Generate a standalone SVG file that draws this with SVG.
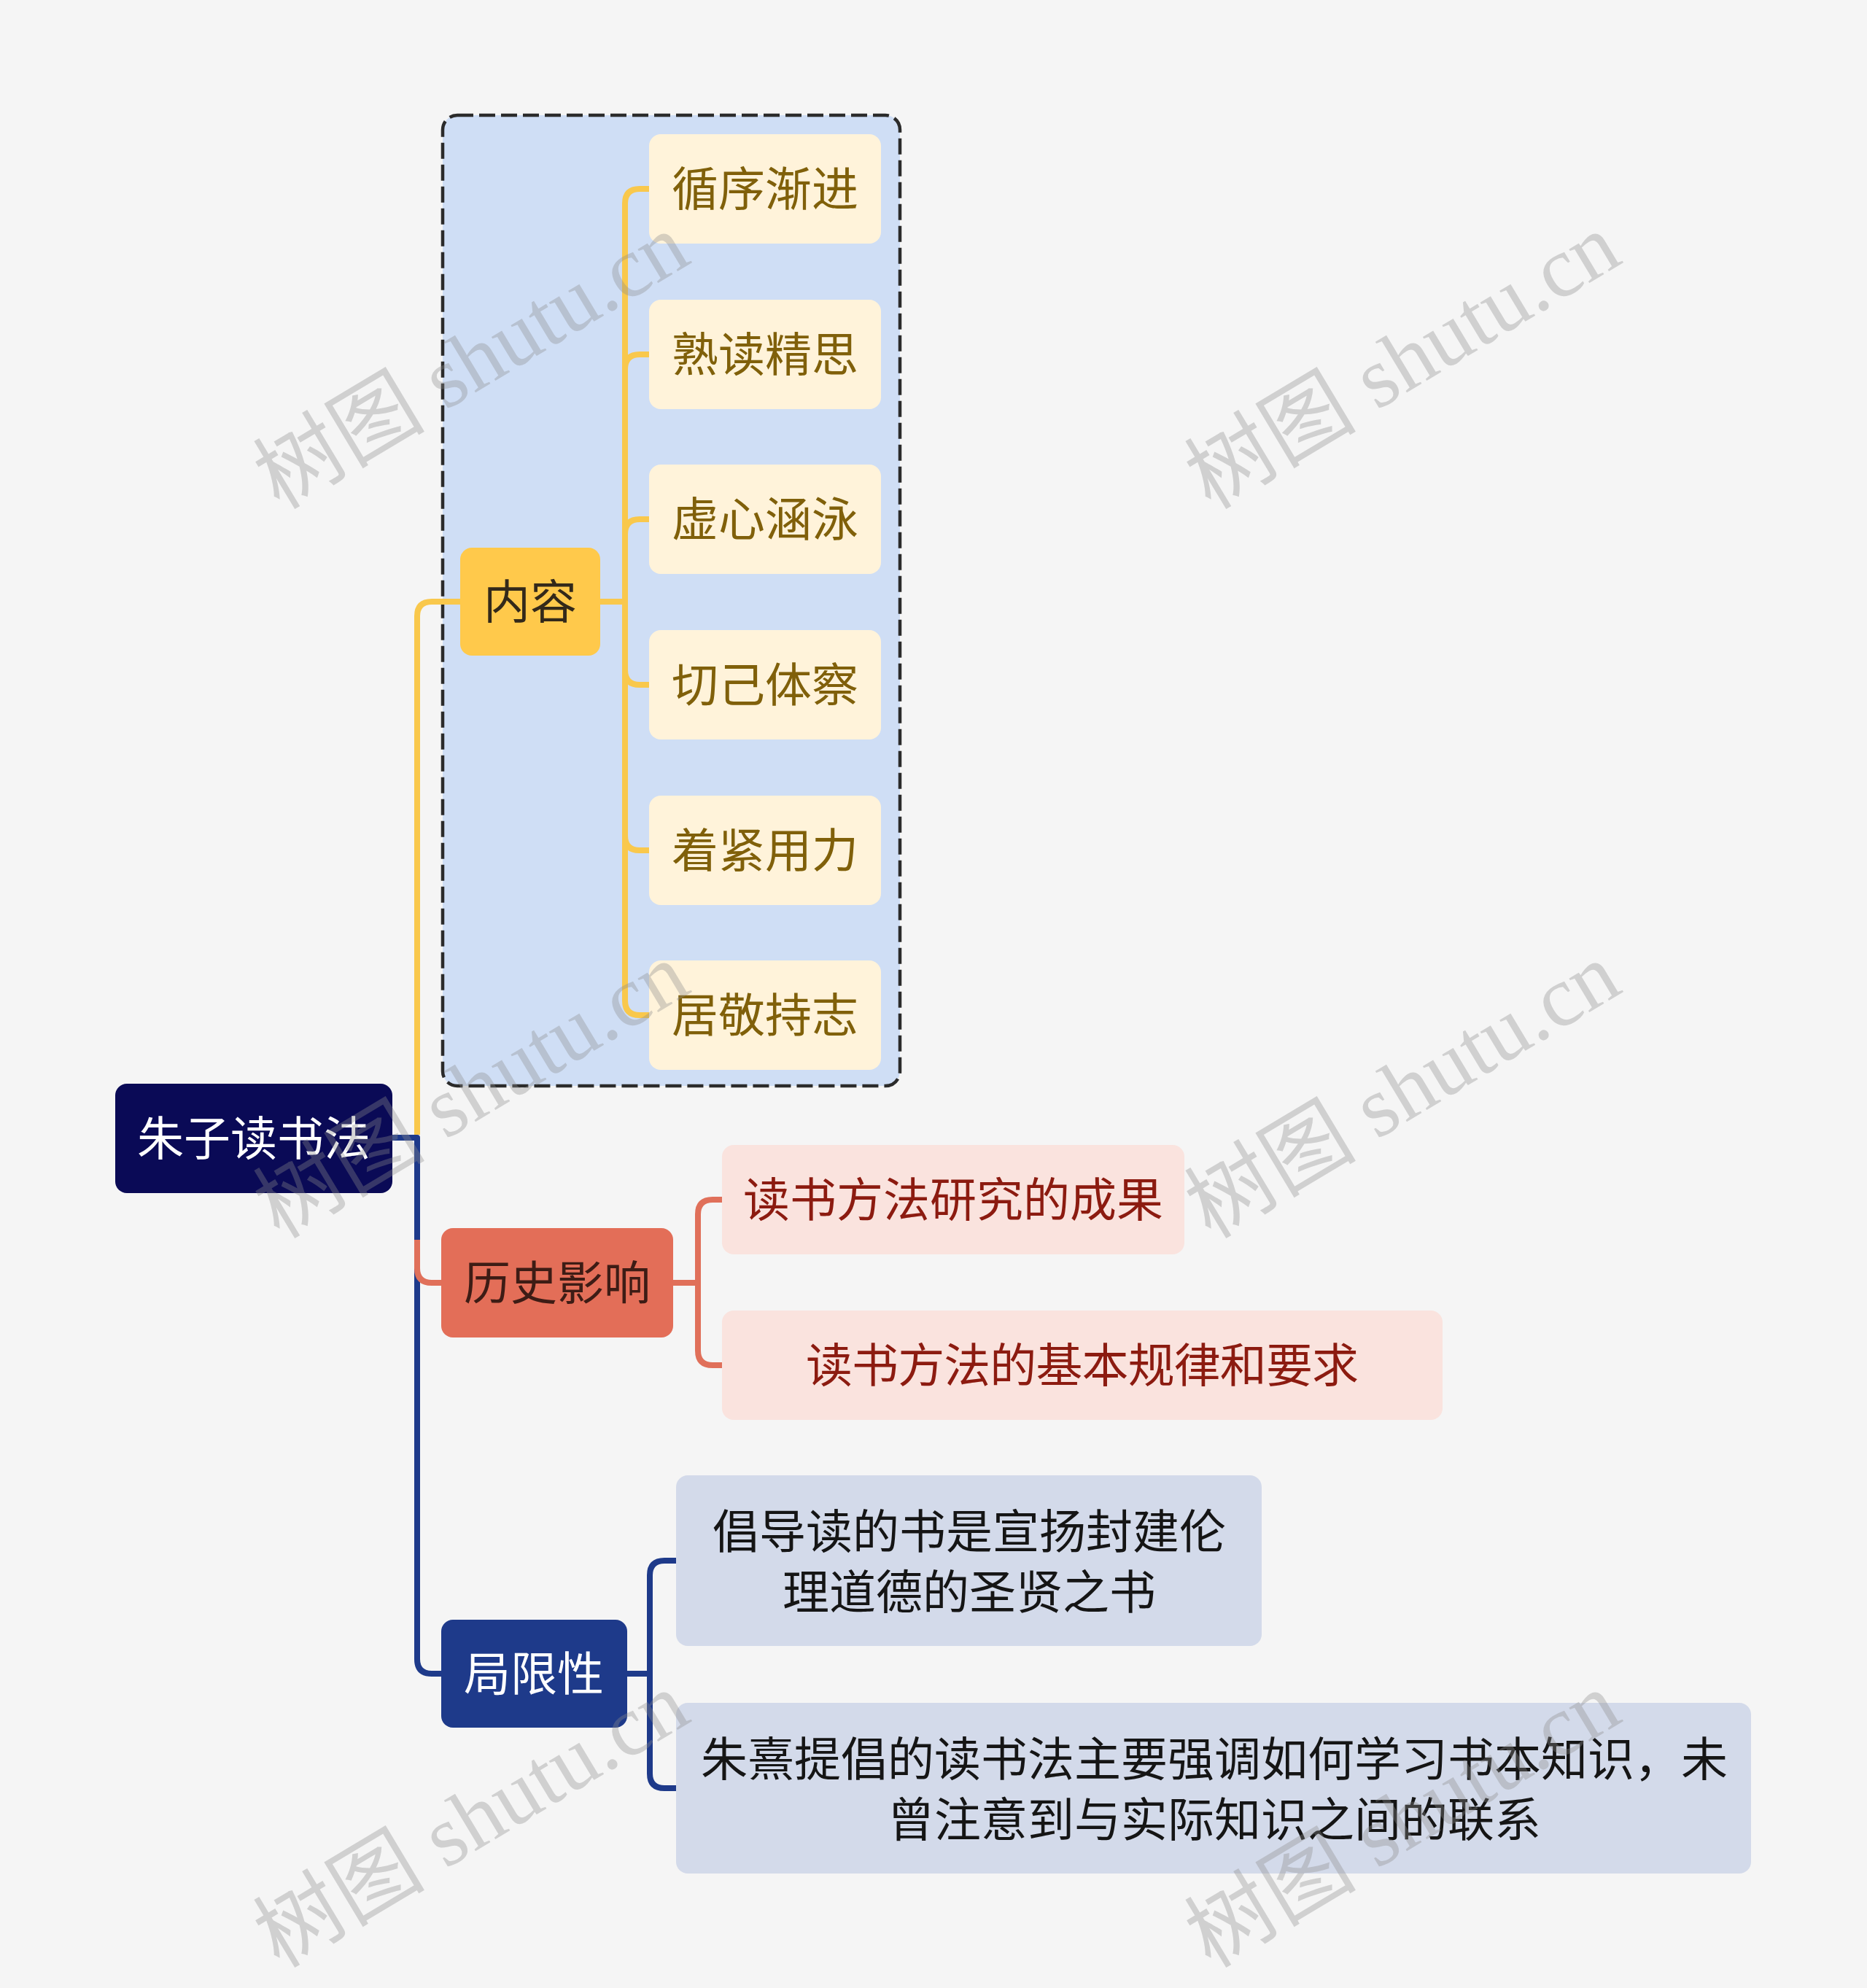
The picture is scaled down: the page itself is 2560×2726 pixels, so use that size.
<svg xmlns="http://www.w3.org/2000/svg" width="2560" height="2726" viewBox="0 0 2560 2726">
<style>
.t{font-family:"Noto Sans CJK SC","Noto Sans",sans-serif;font-size:64px;text-anchor:middle;dominant-baseline:central}
.ln{fill:none;stroke-width:8;stroke-linecap:butt;stroke-linejoin:round}
.y{stroke:#f9c84c}.r{stroke:#e0705a}.b{stroke:#1e3a8a}
.yc{fill:#fff3da}.ycT{fill:#80600a}
.rc{fill:#fae3de}.rcT{fill:#8c1b10}
.bc{fill:#d3daea}.bcT{fill:#151515}
.wm{font-family:"Liberation Serif","Noto Sans CJK SC",serif;font-size:118px;fill:#8c8c8c;opacity:0.35}
</style>
<rect x="0" y="0" width="2560" height="2726" fill="#f5f5f5"/>
<g id="group-box">
<rect x="607" y="158" width="627" height="1331" rx="20" fill="#cfdef5" stroke="#2b2b2b" stroke-width="4.5" stroke-dasharray="22 8"/>
</g>
<g id="connectors">
<path class="ln b" d="M538,1560 H572 V2275 Q572,2295 592,2295 H605"/>
<path class="ln r" d="M572,1700 V1739 Q572,1759 592,1759 H605"/>
<path class="ln y" d="M572,1556 V845 Q572,825 592,825 H631"/>
<path class="ln y" d="M823,825 H857 V279 Q857,259 877,259 H890"/>
<path class="ln y" d="M857,825 V506 Q857,486 877,486 H890"/>
<path class="ln y" d="M857,825 V732 Q857,712 877,712 H890"/>
<path class="ln y" d="M857,825 V919 Q857,939 877,939 H890"/>
<path class="ln y" d="M857,825 V1146 Q857,1166 877,1166 H890"/>
<path class="ln y" d="M857,825 V1372 Q857,1392 877,1392 H890"/>
<path class="ln r" d="M923,1759 H957 V1665 Q957,1645 977,1645 H990"/>
<path class="ln r" d="M957,1759 V1852 Q957,1872 977,1872 H990"/>
<path class="ln b" d="M860,2295 H891 V2160 Q891,2140 911,2140 H927"/>
<path class="ln b" d="M891,2295 V2432 Q891,2452 911,2452 H927"/>
</g>
<g id="root">
<rect x="158" y="1486" width="380" height="150" rx="16" fill="#0a0a56"/>
<text class="t" x="348" y="1556" fill="#ffffff">朱子读书法</text>
</g>
<g id="neirong">
<rect x="631" y="751" width="192" height="148" rx="16" fill="#ffc94b"/>
<text class="t" x="727" y="820" fill="#33291a">内容</text>
</g>
<g id="c1"><rect class="yc" x="890" y="184" width="318" height="150" rx="16"/><text class="t ycT" x="1049" y="254">循序渐进</text></g>
<g id="c2"><rect class="yc" x="890" y="411" width="318" height="150" rx="16"/><text class="t ycT" x="1049" y="481">熟读精思</text></g>
<g id="c3"><rect class="yc" x="890" y="637" width="318" height="150" rx="16"/><text class="t ycT" x="1049" y="707">虚心涵泳</text></g>
<g id="c4"><rect class="yc" x="890" y="864" width="318" height="150" rx="16"/><text class="t ycT" x="1049" y="934">切己体察</text></g>
<g id="c5"><rect class="yc" x="890" y="1091" width="318" height="150" rx="16"/><text class="t ycT" x="1049" y="1161">着紧用力</text></g>
<g id="c6"><rect class="yc" x="890" y="1317" width="318" height="150" rx="16"/><text class="t ycT" x="1049" y="1387">居敬持志</text></g>
<g id="lishi">
<rect x="605" y="1684" width="318" height="150" rx="16" fill="#e36e58"/>
<text class="t" x="764" y="1754" fill="#3d1c15">历史影响</text>
</g>
<g id="r1"><rect class="rc" x="990" y="1570" width="634" height="150" rx="16"/><text class="t rcT" x="1307" y="1640">读书方法研究的成果</text></g>
<g id="r2"><rect class="rc" x="990" y="1797" width="988" height="150" rx="16"/><text class="t rcT" x="1484" y="1867" textLength="758" lengthAdjust="spacing">读书方法的基本规律和要求</text></g>
<g id="juxian">
<rect x="605" y="2221" width="255" height="148" rx="16" fill="#1e3a8a"/>
<text class="t" x="732" y="2290" fill="#ffffff">局限性</text>
</g>
<g id="b1"><rect class="bc" x="927" y="2023" width="803" height="234" rx="16"/>
<text class="t bcT" x="1329" y="2095">倡导读的书是宣扬封建伦</text>
<text class="t bcT" x="1329" y="2178">理道德的圣贤之书</text></g>
<g id="b2"><rect class="bc" x="927" y="2335" width="1474" height="234" rx="16"/>
<text class="t bcT" x="1665" y="2407">朱熹提倡的读书法主要强调如何学习书本知识，未</text>
<text class="t bcT" x="1665" y="2490">曾注意到与实际知识之间的联系</text></g>
<g id="watermarks">
<text class="wm" transform="translate(383,700) rotate(-31)">树图 shutu.cn</text>
<text class="wm" transform="translate(1660,700) rotate(-31)">树图 shutu.cn</text>
<text class="wm" transform="translate(383,1700) rotate(-31)">树图 shutu.cn</text>
<text class="wm" transform="translate(1660,1700) rotate(-31)">树图 shutu.cn</text>
<text class="wm" transform="translate(383,2700) rotate(-31)">树图 shutu.cn</text>
<text class="wm" transform="translate(1660,2700) rotate(-31)">树图 shutu.cn</text>
</g>
</svg>
